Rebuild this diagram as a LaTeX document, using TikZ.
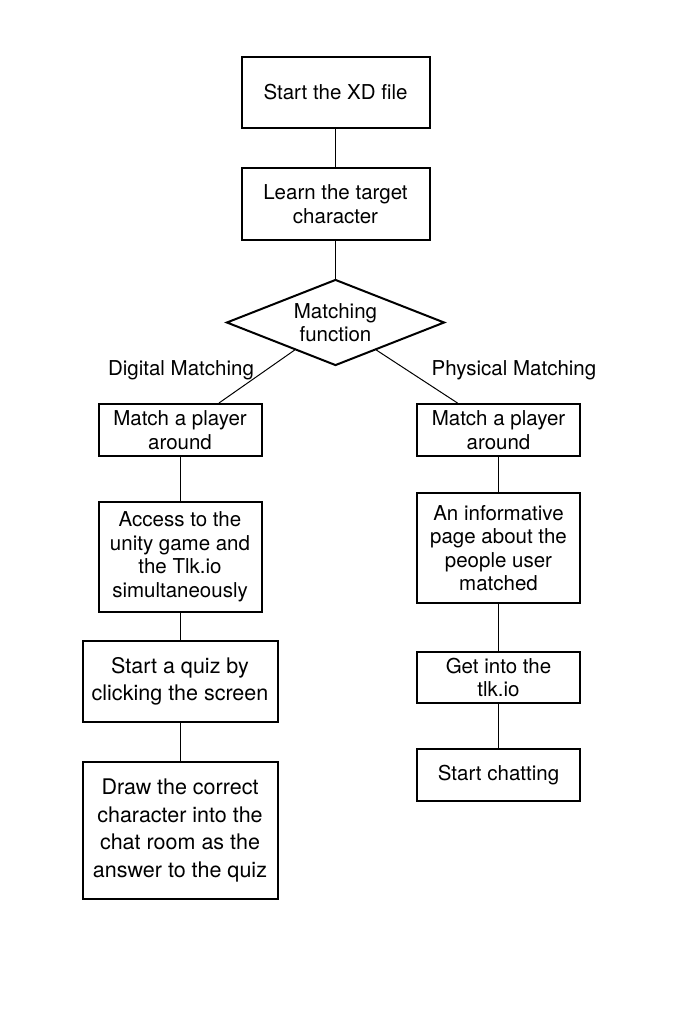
\documentclass[tikz,border=0pt]{standalone}
\usepackage{fontspec}
\setmainfont{TeX Gyre Heros}
\usetikzlibrary{shapes.geometric}

\begin{document}
\begin{tikzpicture}[x=1pt, y=-1pt, semithick,
                    every node/.style={font=\fontsize{20.5}{23.5}\selectfont}]
  \tikzstyle{stepbox}=[draw=black, line width=2pt, align=center, inner sep=0pt]
  \tikzstyle{widebox}=[stepbox, font=\fontsize{21.5}{27.6}\selectfont]
  \tikzstyle{choice}=[draw=black, line width=2pt, diamond, aspect=2.5, align=center,
                      inner sep=0pt, minimum width=218pt, minimum height=86pt]
  \tikzstyle{link}=[draw=black, line width=1pt]

  \useasboundingbox (0,0) rectangle (688,1010);

  \node[stepbox, minimum width=188pt, minimum height=71pt] (start) at (335.5,92.5) {Start the XD file};
  \node[stepbox, minimum width=188pt, minimum height=72pt] (learn) at (335.5,204) {Learn the target\\character};
  \node[choice] (match) at (335.5,322.5) {Matching\\function};

  \node (digital)  at (181,370) {Digital Matching};
  \node (physical) at (514,370) {Physical Matching};

  % digital branch
  \node[stepbox, minimum width=163pt, minimum height=52pt]  (dplayer) at (180,430)   {Match a player\\around};
  \node[stepbox, minimum width=163pt, minimum height=110pt] (daccess) at (180,557)   {Access to the\\unity game and\\the Tlk.io\\simultaneously};
  \node[widebox, minimum width=195pt, minimum height=81pt]  (dquiz)   at (180,681.5) {Start a quiz by\\clicking the screen};
  \node[widebox, minimum width=195pt, minimum height=137pt] (ddraw)   at (180,830.5) {Draw the correct\\character into the\\chat room as the\\answer to the quiz};

  % physical branch
  \node[stepbox, minimum width=163pt, minimum height=52pt]  (pplayer) at (498.5,430)   {Match a player\\around};
  \node[stepbox, minimum width=163pt, minimum height=110pt] (pinfo)   at (498.5,548)   {An informative\\page about the\\people user\\matched};
  \node[stepbox, minimum width=163pt, minimum height=51pt]  (ptlk)    at (498.5,677.5) {Get into the\\tlk.io};
  \node[stepbox, minimum width=163pt, minimum height=52pt]  (pchat)   at (498.5,775)   {Start chatting};

  \path[link] (start) edge (learn)
        (learn) edge (match)
        (match.214) edge ([xshift=39pt]dplayer.north)
        (match.326) edge ([xshift=-41pt]pplayer.north)
        (dplayer) edge (daccess)
        (daccess) edge (dquiz)
        (dquiz) edge (ddraw)
        (pplayer) edge (pinfo)
        (pinfo) edge (ptlk)
        (ptlk) edge (pchat);
\end{tikzpicture}
\end{document}
